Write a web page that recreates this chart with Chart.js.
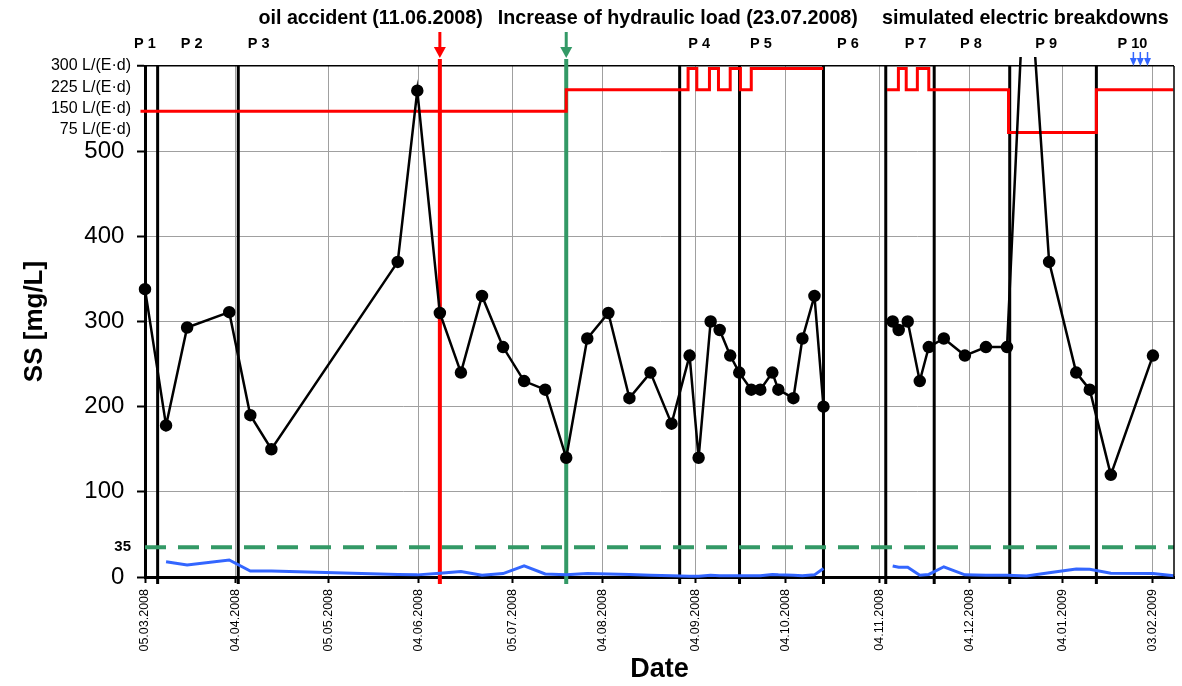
<!DOCTYPE html>
<html>
<head>
<meta charset="utf-8">
<script src="https://cdn.jsdelivr.net/npm/chart.js@4.4.1/dist/chart.umd.min.js"></script>
<style>
  html, body { margin: 0; padding: 0; background: #fff; }
  #wrap { width: 1182px; height: 686px; position: relative; }
</style>
</head>
<body>
<div id="wrap"><canvas id="grafico"></canvas></div>
<script>
// Dias de amostragem (dias desde 05.03.2008)
const sampleDays = [0, 7, 14, 28, 35, 42, 84, 90.5, 98, 105, 112, 119, 126, 133, 140,
  147, 154, 161, 168, 175, 181, 184, 188, 191, 194.5, 197.5, 201.5, 204.5, 208.5, 210.5,
  215.5, 218.5, 222.5, 225.5, 236, 248.5, 250.5, 253.5, 257.5, 260.5,
  265.5, 272.5, 279.5, 286.5, 293, 300.5, 309.5, 314, 321, 335, 342];

// SS afluente (linha preta com pontos)
const ssValues = [338, 178, 293, 311, 190, 150, 370, 571, 310, 240, 330, 270, 230, 220, 140,
  280, 310, 210, 240, 180, 260, 140, 300, 290, 260, 240, 220, 220, 240, 220,
  210, 280, 330, 200, null, 300, 290, 300, 230, 270,
  280, 260, 270, 270, 760, 370, 240, 220, 120, 260, null];

// SS efluente (linha azul)
const effluentValues = [null, 18, 14, 20, 7, 7, 3, 2.5, 4.5, 6.5, 2, 4, 13, 3.5, 2.5,
  4, 3.5, 3, 2, 1.5, 1, 1, 2, 1.5, 1.5, 1.5, 1.5, 1.5, 3, 2.5,
  2, 1.5, 2.5, 10, null, 13, 11.5, 11.5, 2, 3,
  12, 2.5, 2, 2, 1.2, 5, 9.5, 9, 4.5, 4, 1.5];

// Carga hidráulica em L/(E·d) (linha vermelha em degraus)
const loadDays = [-1.5, 140, 180.5, 183.4, 187.6, 190.6, 194.5, 197.9, 201.5, 225.4, 236,
  246.6, 250.4, 253, 256.7, 260.5, 287, 316.2, 341.8];
const loadValues = [150, 225, 300, 225, 300, 225, 300, 225, 300, 300, null,
  225, 300, 225, 300, 225, 75, 225, 225];

// Limite de 35 mg/L
const limitDays = [0, 342];
const limitValue = 35;

// Eixo X
const tickDays = [0, 30, 61, 91, 122, 152, 183, 213, 244, 274, 305, 335];
const tickLabels = ['05.03.2008', '04.04.2008', '05.05.2008', '04.06.2008', '05.07.2008', '04.08.2008',
  '04.09.2008', '04.10.2008', '04.11.2008', '04.12.2008', '04.01.2009', '03.02.2009'];

// Eixo Y
const yTickValues = [0, 35, 100, 200, 300, 400, 500, 525, 550, 575, 600];
const yTickLabels = ['0 ', '35', '100 ', '200 ', '300 ', '400 ', '500 ',
  '75 L/(E·d)', '150 L/(E·d)', '225 L/(E·d)', '300 L/(E·d)'];

// Períodos
const periodDays = [4.2, 31, 177.7, 197.6, 225.5, 246.2, 262.3, 287.4, 316.2];
const periodLabels = ['P 1', 'P 2', 'P 3', 'P 4', 'P 5', 'P 6', 'P 7', 'P 8', 'P 9', 'P 10'];
const periodLabelDays = [0, 15.5, 37.8, 184.2, 204.7, 233.6, 256.1, 274.5, 299.5, 328.2];

// Eventos
const eventDays = [98, 140];
const titleTexts = ['oil accident (11.06.2008)', 'Increase of hydraulic load (23.07.2008)', 'simulated electric breakdowns'];
const titleDays = [75, 177.1, 292.6];
const breakdownDays = [328.5, 330.8, 333.2];

const FONT = '"Liberation Sans", Arial, sans-serif';
Chart.defaults.font.family = FONT;
Chart.defaults.color = '#000';

const toAxis = l => (l == null ? null : 497 + l / 3);

function seta(ctx, x, y0, y1, head, half, lw, cor) {
  ctx.strokeStyle = cor;
  ctx.fillStyle = cor;
  ctx.lineWidth = lw;
  ctx.beginPath();
  ctx.moveTo(x, y0);
  ctx.lineTo(x, y1 - head + 1);
  ctx.stroke();
  ctx.beginPath();
  ctx.moveTo(x - half, y1 - head);
  ctx.lineTo(x + half, y1 - head);
  ctx.lineTo(x, y1);
  ctx.closePath();
  ctx.fill();
}

const anotacoes = {
  id: 'anotacoes',
  beforeDatasetsDraw(chart) {
    const { ctx, chartArea: a, scales: { x } } = chart;
    ctx.save();
    ctx.strokeStyle = '#000';
    ctx.lineWidth = 3;
    periodDays.forEach(d => {
      const px = x.getPixelForValue(d);
      ctx.beginPath();
      ctx.moveTo(px, a.top);
      ctx.lineTo(px, a.bottom + 7);
      ctx.stroke();
    });
    const cores = ['#FF0000', '#339966'];
    eventDays.forEach((d, i) => {
      const px = x.getPixelForValue(d);
      ctx.strokeStyle = cores[i];
      ctx.lineWidth = 4;
      ctx.beginPath();
      ctx.moveTo(px, 59);
      ctx.lineTo(px, a.bottom + 7);
      ctx.stroke();
      seta(ctx, px, 32, 58, 11, 6, 3, cores[i]);
    });
    ctx.restore();
  },
  afterDraw(chart) {
    const { ctx, chartArea: a, scales: { x } } = chart;
    ctx.save();
    // borda direita
    ctx.strokeStyle = '#000';
    ctx.lineWidth = 1.5;
    ctx.beginPath();
    ctx.moveTo(a.right, a.top);
    ctx.lineTo(a.right, a.bottom);
    ctx.stroke();

    ctx.fillStyle = '#000';
    ctx.textAlign = 'center';
    ctx.textBaseline = 'alphabetic';
    ctx.font = 'bold 19.7px ' + FONT;
    titleTexts.forEach((t, i) => ctx.fillText(t, x.getPixelForValue(titleDays[i]), 24));

    ctx.font = 'bold 14.5px ' + FONT;
    periodLabels.forEach((t, i) => ctx.fillText(t, x.getPixelForValue(periodLabelDays[i]), 48));

    breakdownDays.forEach(d => seta(ctx, x.getPixelForValue(d), 52, 66, 8, 3.5, 1.5, '#3366FF'));
    ctx.restore();
  }
};

const clipArea = { left: 8, top: 9, right: 8, bottom: 8 };

new Chart(document.getElementById('grafico'), {
  type: 'line',
  data: {
    datasets: [
      {
        label: 'SS',
        data: sampleDays.map((d, i) => ({ x: d, y: ssValues[i] })),
        borderColor: '#000',
        backgroundColor: '#000',
        borderWidth: 2.5,
        pointRadius: 5,
        pointHoverRadius: 5,
        clip: clipArea
      },
      {
        label: 'SS efluente',
        data: sampleDays.map((d, i) => ({ x: d, y: effluentValues[i] })),
        borderColor: '#3366FF',
        borderWidth: 3,
        pointRadius: 0,
        clip: clipArea
      },
      {
        label: 'Carga hidráulica',
        data: loadDays.map((d, i) => ({ x: d, y: toAxis(loadValues[i]) })),
        borderColor: '#FF0000',
        borderWidth: 3,
        pointRadius: 0,
        stepped: true,
        clip: clipArea
      },
      {
        label: 'Limite',
        data: limitDays.map(d => ({ x: d, y: limitValue })),
        borderColor: '#339966',
        borderWidth: 4,
        borderDash: [21, 12],
        pointRadius: 0,
        clip: clipArea
      }
    ]
  },
  options: {
    responsive: true,
    maintainAspectRatio: false,
    animation: false,
    devicePixelRatio: 1,
    layout: { padding: { left: 0, right: 8, top: 66, bottom: 0 } },
    plugins: { legend: { display: false }, tooltip: { enabled: false } },
    scales: {
      x: {
        type: 'linear',
        min: 0,
        max: 342,
        afterBuildTicks: s => { s.ticks = tickDays.map(v => ({ value: v })); },
        afterFit: s => { s.height = 109; },
        ticks: {
          autoSkip: false,
          minRotation: 90,
          maxRotation: 90,
          padding: 6,
          color: '#000',
          font: { size: 12.5 },
          callback: (v, i) => tickLabels[i]
        },
        grid: { color: '#a0a0a0', lineWidth: 1, tickColor: '#000', tickLength: 6, tickWidth: 2 },
        border: { color: '#000', width: 3 },
        title: {
          display: true, text: 'Date', color: '#000',
          font: { size: 27, weight: 'bold' }, padding: { top: 0, bottom: 0 }
        }
      },
      y: {
        min: 0,
        max: 600,
        afterBuildTicks: s => { s.ticks = yTickValues.map(v => ({ value: v })); },
        afterFit: s => { s.width = 145; },
        ticks: {
          autoSkip: false,
          padding: 6,
          color: '#000',
          callback: (v, i) => yTickLabels[i],
          font: c => {
            const v = c.tick ? c.tick.value : 0;
            if (v === 35) return { size: 15, weight: 'bold' };
            if (v > 500) return { size: 16 };
            return { size: 24 };
          }
        },
        grid: {
          color: c => {
            const v = c.tick ? c.tick.value : 0;
            if (v === 600) return '#000';
            return (v >= 100 && v <= 500) ? '#a0a0a0' : 'rgba(0,0,0,0)';
          },
          lineWidth: c => (c.tick && c.tick.value === 600 ? 1.5 : 1),
          tickColor: c => {
            const v = c.tick ? c.tick.value : 0;
            return (v % 100 === 0) ? '#000' : 'rgba(0,0,0,0)';
          },
          tickLength: 8,
          tickWidth: 2
        },
        border: { color: '#000', width: 3 },
        title: {
          display: true, text: 'SS [mg/L]', color: '#000',
          font: { size: 26, weight: 'bold' }, padding: { top: 19, bottom: 0 }
        }
      }
    }
  },
  plugins: [anotacoes]
});
</script>
</body>
</html>
